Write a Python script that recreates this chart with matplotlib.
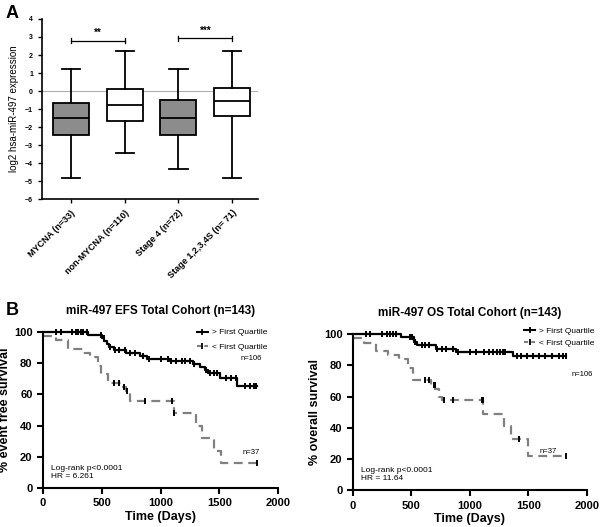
import numpy as np
import matplotlib
matplotlib.use("Agg")
import matplotlib.pyplot as plt
from matplotlib.lines import Line2D

plt.rcParams['font.family'] = ['Liberation Sans', 'DejaVu Sans']

# Panel A - box plot summary values (log2 expression)
groups = ["MYCNA (n=33)", "non-MYCNA (n=110)", "Stage 4 (n=72)", "Stage 1,2,3,4S (n= 71)"]
box_med = [-1.47, -0.76, -1.51, -0.56]
box_q1 = [-2.44, -1.66, -2.44, -1.41]
box_q3 = [-0.65, 0.09, -0.47, 0.19]
box_lo = [-4.85, -3.42, -4.32, -4.85]
box_hi = [1.21, 2.21, 1.23, 2.21]
box_fill = ["#8c8c8c", "white", "#8c8c8c", "white"]
sig_pairs = [(1, 2), (3, 4)]
sig_labels = ["**", "***"]
sig_y = [2.8, 2.92]

# Panel B - Kaplan-Meier steps (time in days, survival %)
efs_hi_t = [0, 383, 505, 520, 540, 560, 600, 709, 823, 880, 1078, 1277, 1333, 1376, 1400, 1504, 1646]
efs_hi_s = [100, 98.1, 96.2, 94.3, 92.5, 90.6, 88.7, 86.8, 84.9, 83.0, 81.1, 79.2, 77.3, 75.4, 73.5, 70.6, 65.5]
efs_hi_end = 1816
efs_hi_cens = [110, 150, 250, 280, 300, 320, 340, 370, 490, 515, 570, 610, 650, 700, 740, 780,
               850, 900, 1000, 1060, 1085, 1130, 1180, 1210, 1250, 1285, 1390, 1420, 1450,
               1480, 1560, 1600, 1640, 1720, 1760, 1790, 1815]

efs_lo_t = [0, 113, 213, 340, 397, 468, 490, 553, 680, 705, 740, 1112, 1300, 1350, 1450, 1510]
efs_lo_s = [97.3, 94.6, 89.2, 86.5, 83.8, 78.4, 73.0, 67.6, 64.9, 62.2, 56.0, 48.0, 40.0, 32.0, 24.0, 16.0]
efs_lo_end = 1820
efs_lo_cens = [600, 650, 690, 715, 870, 1100, 1118, 1820]

os_hi_t = [0, 413, 527, 550, 712, 883, 1367]
os_hi_s = [100, 98.0, 95.2, 93.0, 90.6, 88.5, 86.0]
os_hi_end = 1823
os_hi_cens = [110, 150, 250, 290, 320, 340, 370, 490, 510, 530, 590, 620, 650, 720, 760, 800,
              860, 900, 1000, 1050, 1120, 1160, 1200, 1230, 1260, 1280, 1300, 1400, 1440,
              1490, 1540, 1590, 1640, 1700, 1760, 1800, 1820]

os_lo_t = [0, 100, 199, 299, 399, 470, 513, 670, 705, 740, 760, 1111, 1296, 1353, 1495]
os_lo_s = [97.3, 94.6, 89.2, 86.5, 83.8, 78.4, 70.3, 67.6, 64.9, 60.0, 57.5, 49.0, 41.0, 32.5, 22.0]
os_lo_end = 1823
os_lo_cens = [620, 650, 690, 700, 780, 860, 1100, 1110, 1420, 1820]


def km(ax, t, s, end, cens, color, ls, lw):
    tt = list(t) + [end]
    ss = list(s) + [s[-1]]
    ax.step(tt, ss, where='post', color=color, linestyle=ls, lw=lw, clip_on=False)
    idx = np.searchsorted(t, cens, side='right') - 1
    ax.plot(cens, np.array(s)[idx], linestyle='none', marker='|', ms=4.5, mew=1.4,
            color='black', clip_on=False)


fig = plt.figure(figsize=(6, 5.27), dpi=100)

# ---------------- Panel A ----------------
axA = fig.add_axes([0.07, 0.622, 0.36, 0.342])
stats = []
for i in range(len(groups)):
    stats.append(dict(med=box_med[i], q1=box_q1[i], q3=box_q3[i],
                      whislo=box_lo[i], whishi=box_hi[i], fliers=[]))
bp = axA.bxp(stats, positions=[1, 2, 3, 4], widths=0.67, patch_artist=True,
             showfliers=False,
             boxprops=dict(lw=1.3, edgecolor='black'),
             medianprops=dict(color='black', lw=1.3),
             whiskerprops=dict(color='black', lw=1.3),
             capprops=dict(color='black', lw=1.3), capwidths=0.34)
for patch, c in zip(bp['boxes'], box_fill):
    patch.set_facecolor(c)
axA.axhline(0, color='#b0b0b0', lw=0.8, zorder=0)
for (a, b), lab, y in zip(sig_pairs, sig_labels, sig_y):
    axA.plot([a, b], [y, y], color='black', lw=0.9)
    axA.plot([a, a], [y - 0.12, y + 0.12], color='black', lw=0.9)
    axA.plot([b, b], [y - 0.12, y + 0.12], color='black', lw=0.9)
    axA.text((a + b) / 2, y + 0.15, lab, ha='center', va='bottom', fontsize=7, fontweight='bold')
axA.set_xlim(0.46, 4.48)
axA.set_ylim(-6, 4)
axA.set_yticks(range(-6, 5))
axA.set_xticks([1, 2, 3, 4])
axA.set_xticklabels(groups, rotation=45, ha='right', rotation_mode='anchor',
                    fontsize=6.5, fontweight='bold')
axA.tick_params(axis='y', labelsize=5, width=1, length=3, direction='out')
axA.tick_params(axis='x', width=1, length=3, direction='out')
for lbl in axA.get_yticklabels():
    lbl.set_fontweight('bold')
axA.spines['top'].set_visible(False)
axA.spines['right'].set_visible(False)
axA.spines['left'].set_linewidth(1.2)
axA.spines['bottom'].set_linewidth(1.2)
axA.set_ylabel("log2 hsa-miR-497 expression", fontsize=7, labelpad=4)
fig.text(0.01, 0.975, "A", fontsize=13, fontweight='bold', va='center')

# ---------------- Panel B ----------------
axL = fig.add_axes([0.0717, 0.074, 0.392, 0.296])
axR = fig.add_axes([0.588, 0.070, 0.39, 0.296])

km(axL, efs_hi_t, efs_hi_s, efs_hi_end, efs_hi_cens, 'black', '-', 1.6)
km(axL, efs_lo_t, efs_lo_s, efs_lo_end, efs_lo_cens, '#808080', (0, (4, 2.5)), 1.6)
km(axR, os_hi_t, os_hi_s, os_hi_end, os_hi_cens, 'black', '-', 1.6)
km(axR, os_lo_t, os_lo_s, os_lo_end, os_lo_cens, '#808080', (0, (4, 2.5)), 1.6)

titles = ["miR-497 EFS Total Cohort (n=143)", "miR-497 OS Total Cohort (n=143)"]
ylabels = ["% event free survival", "% overall survival"]
hr_text = ["Log-rank p<0.0001\nHR = 6.261", "Log-rank p<0.0001\nHR = 11.64"]
leg_anchor = [(0.985, 1.07), (1.065, 1.09)]
leg_space = [0.85, 0.45]
for ax, ttl, yl, hr, anc, sp in zip([axL, axR], titles, ylabels, hr_text, leg_anchor, leg_space):
    ax.set_xlim(0, 2000)
    ax.set_ylim(0, 100)
    ax.set_xticks([0, 500, 1000, 1500, 2000])
    ax.set_yticks([0, 20, 40, 60, 80, 100])
    ax.tick_params(labelsize=8, width=1.5, length=4, direction='out')
    for lbl in ax.get_xticklabels() + ax.get_yticklabels():
        lbl.set_fontweight('bold')
    ax.spines['top'].set_visible(False)
    ax.spines['right'].set_visible(False)
    ax.spines['left'].set_linewidth(1.5)
    ax.spines['bottom'].set_linewidth(1.5)
    ax.set_xlabel("Time (Days)", fontsize=9, fontweight='bold', labelpad=2)
    ax.set_ylabel(yl, fontsize=9, fontweight='bold', labelpad=2)
    ax.set_title(ttl, fontsize=8.5, fontweight='bold', pad=13)
    ax.text(70, 10, hr, fontsize=6, va='center', ha='left', linespacing=1.1)
    handles = [Line2D([], [], color='black', lw=1.5, marker='|', ms=4, mew=1.3),
               Line2D([], [], color='#808080', lw=1.5, ls=(0, (2, 1.5)), marker='|', ms=4,
                      mew=1.3, markeredgecolor='black')]
    ax.legend(handles, ["> First Quartile", "< First Quartile"], fontsize=6, frameon=False,
              loc='upper right', bbox_to_anchor=anc, handlelength=1.3,
              handletextpad=0.5, labelspacing=sp)

axL.text(1770, 82, "n=106", fontsize=5.5, ha='center')
axL.text(1770, 22, "n=37", fontsize=5.5, ha='center')
axR.text(1960, 73, "n=106", fontsize=5.5, ha='center')
axR.text(1670, 24, "n=37", fontsize=5.5, ha='center')

fig.text(0.01, 0.41, "B", fontsize=13, fontweight='bold', va='center')

fig.savefig("out.png", dpi=100)
